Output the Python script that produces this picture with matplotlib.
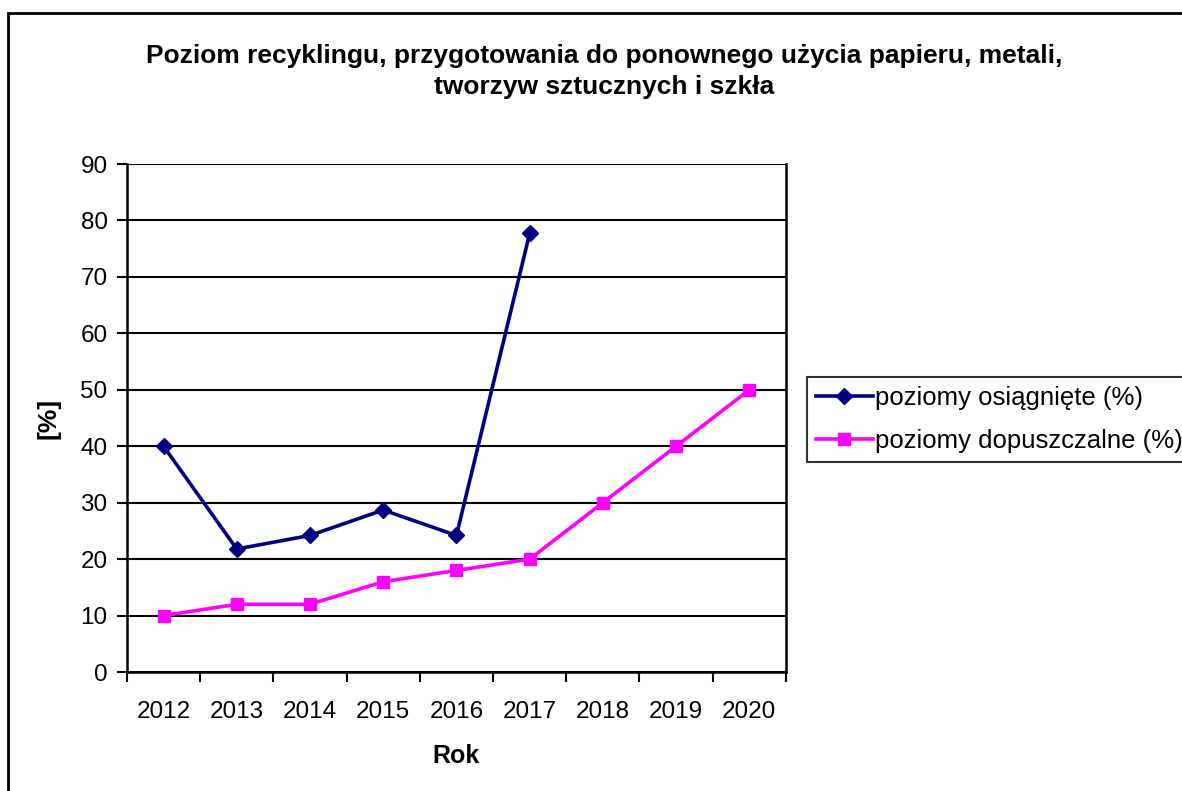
import matplotlib.pyplot as plt
from matplotlib.patches import Rectangle

plt.rcParams['font.family'] = ['Liberation Sans', 'DejaVu Sans']

# dane
lata = ['2012', '2013', '2014', '2015', '2016', '2017', '2018', '2019', '2020']
osiagniete = [40.0, 21.8, 24.2, 28.7, 24.2, 77.7]
dopuszczalne = [10, 12, 12, 16, 18, 20, 30, 40, 50]

fig = plt.figure(figsize=(11.82, 7.91), dpi=100)
ax = fig.add_axes([0.1074, 0.1504, 0.5575, 0.6422])

x_osiag = list(range(len(osiagniete)))
x_dop = list(range(len(dopuszczalne)))

ax.plot(x_osiag, osiagniete, color='#000080', linewidth=2.6, marker='D',
        markersize=8.5, label='poziomy osiągnięte (%)', zorder=3)
ax.plot(x_dop, dopuszczalne, color='#FF00FF', linewidth=2.6, marker='s',
        markersize=9, label='poziomy dopuszczalne (%)', zorder=3)

ax.set_xlim(-0.5, len(lata) - 0.5)
ax.set_ylim(0, 90)
ax.set_yticks(range(0, 91, 10))
ax.yaxis.grid(True, color='black', linewidth=1.5)
ax.set_axisbelow(True)

# podzialki osi x na granicach kategorii, etykiety na srodku
ax.set_xticks([i - 0.5 for i in range(len(lata) + 1)])
ax.set_xticklabels([])
ax.set_xticks(range(len(lata)), minor=True)
ax.set_xticklabels(lata, minor=True)
ax.tick_params(axis='x', which='major', length=7, width=1.5, direction='out')
ax.tick_params(axis='x', which='minor', length=0, pad=21, labelsize=17.5)
ax.tick_params(axis='y', length=7, width=1.5, direction='out', pad=7, labelsize=17.5)

for s in ['left', 'bottom', 'right']:
    ax.spines[s].set_linewidth(1.8)
ax.spines['top'].set_visible(False)

ax.set_xlabel('Rok', fontsize=18, fontweight='bold', labelpad=15)
ax.set_ylabel('[%]', fontsize=19, fontweight='bold', labelpad=14)

fig.text(0.511, 0.910, 'Poziom recyklingu, przygotowania do ponownego użycia papieru, metali,\n'
         'tworzyw sztucznych i szkła', ha='center', va='center',
         fontsize=19, fontweight='bold', linespacing=1.38)

leg = fig.legend(loc='upper left', bbox_to_anchor=(807 / 1182, 1 - 377 / 791),
                 fontsize=18.5, frameon=True, fancybox=False, edgecolor='black',
                 handlelength=2.2, handletextpad=0.1, borderpad=0.35,
                 labelspacing=0.75, borderaxespad=0)
leg.get_frame().set_linewidth(1.5)

# ramka wykresu
fig.patches.append(Rectangle((8 / 1182, -0.05), 1.1, 1 - 13 / 791 + 0.05,
                             transform=fig.transFigure, fill=False,
                             edgecolor='black', linewidth=2, clip_on=False))

fig.savefig('out.png', dpi=100)
